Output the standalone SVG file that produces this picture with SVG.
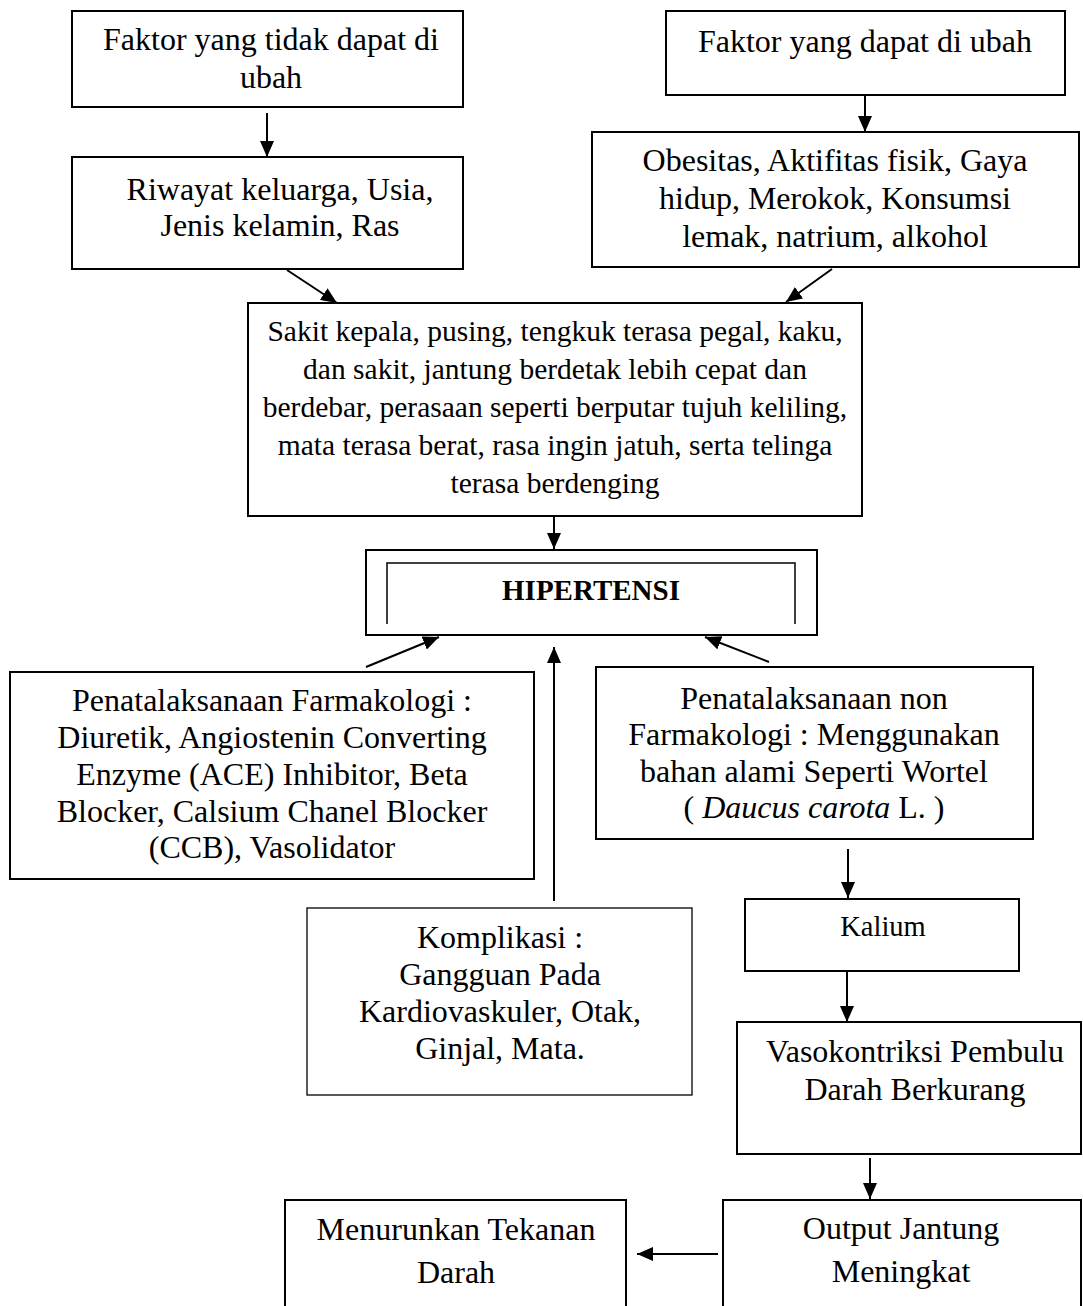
<svg xmlns="http://www.w3.org/2000/svg" width="1083" height="1306" viewBox="0 0 1083 1306">
<style>
  .box { fill: #ffffff; stroke: #000000; stroke-width: 2; }
  .thin { fill: #ffffff; stroke: #000000; stroke-width: 1.3; }
  .inner { fill: none; stroke: #000000; stroke-width: 1.5; }
  .t { font-family: "Liberation Serif", "Times New Roman", serif; font-size: 32px; fill: #000000; text-anchor: middle; }
  .s { font-size: 29.5px; }
  .k { font-size: 28.5px; }
  .b { font-weight: bold; font-size: 29px; }
  .conn line { stroke: #000000; stroke-width: 2; marker-end: url(#ah); }
</style>
<defs>
  <marker id="ah" markerUnits="userSpaceOnUse" markerWidth="16" markerHeight="14" refX="16" refY="7" orient="auto">
    <path d="M0,0 L16,7 L0,14 z" fill="#000000"/>
  </marker>
</defs>
<rect x="0" y="0" width="1083" height="1306" fill="#ffffff"/>

<g id="node-faktor-tidak">
  <rect class="box" x="72" y="11" width="391" height="96"/>
  <text class="t" x="271" y="50">Faktor yang tidak dapat di</text>
  <text class="t" x="271" y="88">ubah</text>
</g>
<g id="node-riwayat">
  <rect class="box" x="72" y="157" width="391" height="112"/>
  <text class="t" x="280" y="200">Riwayat keluarga, Usia,</text>
  <text class="t" x="280" y="236">Jenis kelamin, Ras</text>
</g>
<g id="node-faktor-dapat">
  <rect class="box" x="666" y="11" width="399" height="84"/>
  <text class="t" x="865" y="52">Faktor yang dapat di ubah</text>
</g>
<g id="node-obesitas">
  <rect class="box" x="592" y="132" width="487" height="135"/>
  <text class="t" x="835" y="171">Obesitas, Aktifitas fisik, Gaya</text>
  <text class="t" x="835" y="209">hidup, Merokok, Konsumsi</text>
  <text class="t" x="835" y="247">lemak, natrium, alkohol</text>
</g>
<g id="node-gejala">
  <rect class="box" x="248" y="303" width="614" height="213"/>
  <text class="t s" x="555" y="341">Sakit kepala, pusing, tengkuk terasa pegal, kaku,</text>
  <text class="t s" x="555" y="379">dan sakit, jantung berdetak lebih cepat dan</text>
  <text class="t s" x="555" y="417">berdebar, perasaan seperti berputar tujuh keliling,</text>
  <text class="t s" x="555" y="455">mata terasa berat, rasa ingin jatuh, serta telinga</text>
  <text class="t s" x="555" y="493">terasa berdenging</text>
</g>
<g id="node-hipertensi">
  <rect class="box" x="366" y="550" width="451" height="85"/>
  <path class="inner" d="M387,624 V563 H795 V624"/>
  <text class="t b" x="591" y="600">HIPERTENSI</text>
</g>
<g id="node-farmakologi">
  <rect class="box" x="10" y="672" width="524" height="207"/>
  <text class="t" x="272" y="711">Penatalaksanaan Farmakologi :</text>
  <text class="t" x="272" y="748">Diuretik, Angiostenin Converting</text>
  <text class="t" x="272" y="785">Enzyme (ACE) Inhibitor, Beta</text>
  <text class="t" x="272" y="822">Blocker, Calsium Chanel Blocker</text>
  <text class="t" x="272" y="858">(CCB), Vasolidator</text>
</g>
<g id="node-non-farmakologi">
  <rect class="box" x="596" y="667" width="437" height="172"/>
  <text class="t" x="814" y="709">Penatalaksanaan non</text>
  <text class="t" x="814" y="745">Farmakologi : Menggunakan</text>
  <text class="t" x="814" y="782">bahan alami Seperti Wortel</text>
  <text class="t" x="814" y="818">( <tspan font-style="italic">Daucus carota</tspan> L. )</text>
</g>
<g id="node-komplikasi">
  <rect class="thin" x="307" y="908" width="385" height="187"/>
  <text class="t" x="500" y="948">Komplikasi :</text>
  <text class="t" x="500" y="985">Gangguan Pada</text>
  <text class="t" x="500" y="1022">Kardiovaskuler, Otak,</text>
  <text class="t" x="500" y="1059">Ginjal, Mata.</text>
</g>
<g id="node-kalium">
  <rect class="box" x="745" y="899" width="274" height="72"/>
  <text class="t k" x="883" y="936">Kalium</text>
</g>
<g id="node-vasokontriksi">
  <rect class="box" x="737" y="1022" width="344" height="132"/>
  <text class="t" x="915" y="1062">Vasokontriksi Pembulu</text>
  <text class="t" x="915" y="1100">Darah Berkurang</text>
</g>
<g id="node-output">
  <rect class="box" x="723" y="1200" width="358" height="130"/>
  <text class="t" x="901" y="1239">Output Jantung</text>
  <text class="t" x="901" y="1282">Meningkat</text>
</g>
<g id="node-menurunkan">
  <rect class="box" x="285" y="1200" width="341" height="130"/>
  <text class="t" x="456" y="1240">Menurunkan Tekanan</text>
  <text class="t" x="456" y="1283">Darah</text>
</g>

<g id="connectors" class="conn">
  <line x1="267" y1="113" x2="267" y2="157"/>
  <line x1="865" y1="96" x2="865" y2="132"/>
  <line x1="287" y1="270" x2="337" y2="303"/>
  <line x1="832" y1="269" x2="786" y2="302"/>
  <line x1="554" y1="517" x2="554" y2="549"/>
  <line x1="366" y1="667" x2="439" y2="637"/>
  <line x1="554" y1="901" x2="554" y2="647"/>
  <line x1="769" y1="662" x2="705" y2="637"/>
  <line x1="848" y1="849" x2="848" y2="898"/>
  <line x1="847" y1="972" x2="847" y2="1022"/>
  <line x1="870" y1="1158" x2="870" y2="1199"/>
  <line x1="718" y1="1254" x2="637" y2="1254"/>
</g>
</svg>
